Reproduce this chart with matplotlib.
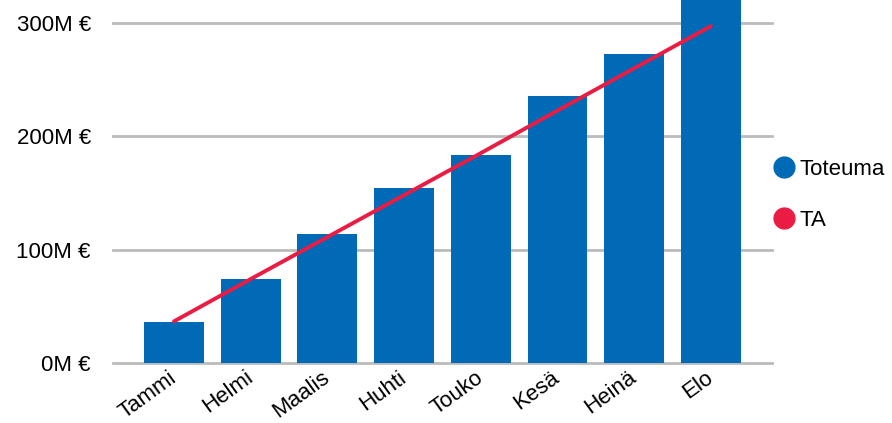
import matplotlib
matplotlib.use("Agg")
import matplotlib.pyplot as plt
from matplotlib.lines import Line2D

months = ["Tammi", "Helmi", "Maalis", "Huhti", "Touko", "Kesä", "Heinä", "Elo"]
toteuma = [36.1, 74.0, 113.6, 154.2, 183.3, 235.5, 272.0, 330.0]
ta = [36.7, 74.0, 111.0, 148.0, 185.0, 222.5, 259.8, 296.9]
yticks = [0, 100, 200, 300]
ytick_labels = ["0M €", "100M €", "200M €", "300M €"]

BAR = "#006AB7"
LINE = "#EA1C43"
GRID = "#BBBBBB"

plt.rcParams["font.family"] = ["Liberation Sans", "DejaVu Sans"]

fig = plt.figure(figsize=(8.92, 4.23), dpi=100)
ax = fig.add_axes([113/892, (423-363)/423, (772-113)/892, 363/423])

x = list(range(len(months)))
ax.bar(x, toteuma, width=0.78, color=BAR, zorder=2)
ax.plot(x, ta, color=LINE, linewidth=2.8, solid_capstyle="round", zorder=3)

ax.set_xlim(-0.795, 7.797)
ax.set_ylim(0, 320)
ax.set_yticks(yticks)
ax.set_yticklabels(ytick_labels)
ax.set_xticks(x)
ax.set_xticklabels(months, rotation=36, ha="right", va="center", rotation_mode="anchor")
ax.tick_params(axis="both", length=0, labelsize=16, colors="black")
ax.tick_params(axis="y", pad=16)
ax.tick_params(axis="x", pad=9)
ax.yaxis.grid(True, color=GRID, linewidth=2, zorder=0)
for gl in ax.get_ygridlines():
    gl.set_clip_on(False)
ax.set_axisbelow(True)
for s in ax.spines.values():
    s.set_visible(False)

handles = [
    Line2D([], [], marker="o", linestyle="none", markersize=15, color=BAR),
    Line2D([], [], marker="o", linestyle="none", markersize=15, color=LINE),
]
fig.legend(handles, ["Toteuma", "TA"], loc="center left",
           bbox_to_anchor=(773/892, 1-195/423), frameon=False, fontsize=16,
           handlelength=1.0, handletextpad=0.2, labelspacing=1.35,
           borderpad=0, borderaxespad=0)

fig.savefig("out.png", dpi=100)
